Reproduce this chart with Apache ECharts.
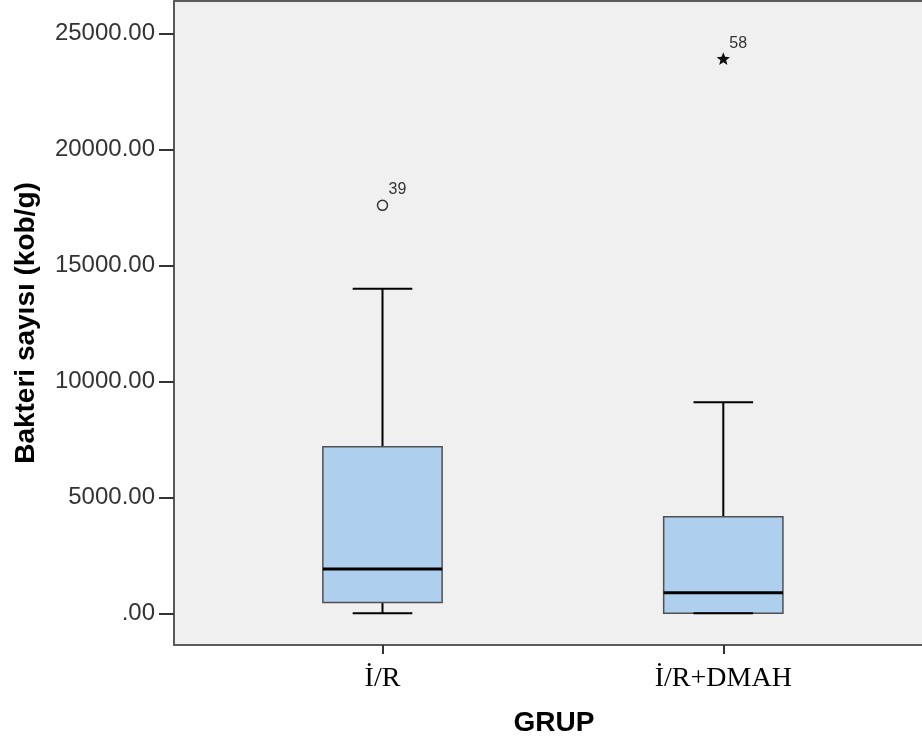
<!DOCTYPE html>
<html><head><meta charset="utf-8">
<script src="https://cdn.jsdelivr.net/npm/echarts@6/dist/echarts.min.js"></script>
<style>html,body{margin:0;padding:0;background:#fff}#c{width:922px;height:742px}</style>
</head><body><div id="c"></div>
<script>
const categories = ['İ/R', 'İ/R+DMAH'];
const whiskerLow = [0, 0];
const q1 = [470, 0];
const median = [1910, 890];
const q3 = [7190, 4170];
const whiskerHigh = [14000, 9100];
const outlierGroup = [0, 1];
const outlierValue = [17600, 23900];
const outlierCase = ['39', '58'];
const outlierKind = ['circle', 'star'];
const yTickValues = [0, 5000, 10000, 15000, 20000, 25000];
const yMin = -1367, yMax = 26415;

const boxData = categories.map((c, i) => [i, whiskerLow[i], q1[i], median[i], q3[i], whiskerHigh[i]]);
const outData = outlierGroup.map((g, i) => [g, outlierValue[i], outlierCase[i], outlierKind[i]]);

function renderBox(params, api) {
  const i = api.value(0);
  const band = api.size([1, 0])[0];
  const bw = band * 0.35;
  const cap = bw / 2;
  const pLow = api.coord([i, api.value(1)]);
  const pQ1 = api.coord([i, api.value(2)]);
  const pMed = api.coord([i, api.value(3)]);
  const pQ3 = api.coord([i, api.value(4)]);
  const pHigh = api.coord([i, api.value(5)]);
  const x = pQ1[0];
  const blk = {stroke: '#000', lineWidth: 2};
  return {type: 'group', children: [
    {type: 'line', shape: {x1: x, y1: pQ3[1], x2: x, y2: pHigh[1]}, style: blk},
    {type: 'line', shape: {x1: x, y1: pQ1[1], x2: x, y2: pLow[1]}, style: blk},
    {type: 'rect', shape: {x: x - bw / 2, y: pQ3[1], width: bw, height: pQ1[1] - pQ3[1]},
      style: {fill: '#aed0ee', stroke: '#505050', lineWidth: 1.5}},
    {type: 'line', shape: {x1: x - cap / 2, y1: pHigh[1], x2: x + cap / 2, y2: pHigh[1]}, style: blk},
    {type: 'line', shape: {x1: x - cap / 2, y1: pLow[1], x2: x + cap / 2, y2: pLow[1]}, style: blk},
    {type: 'line', shape: {x1: x - bw / 2, y1: pMed[1], x2: x + bw / 2, y2: pMed[1]}, style: {stroke: '#000', lineWidth: 3}}
  ]};
}

function starPoints(cx, cy, ro, ri) {
  const pts = [];
  for (let k = 0; k < 10; k++) {
    const r = k % 2 === 0 ? ro : ri;
    const a = -Math.PI / 2 + k * Math.PI / 5;
    pts.push([cx + r * Math.cos(a), cy + r * Math.sin(a)]);
  }
  return pts;
}

function renderOutlier(params, api) {
  const p = api.coord([api.value(0), api.value(1)]);
  const idx = params.dataIndex;
  const kind = outData[idx][3];
  const label = outData[idx][2];
  const marker = kind === 'circle'
    ? {type: 'circle', shape: {cx: p[0], cy: p[1], r: 5}, style: {fill: 'none', stroke: '#333', lineWidth: 1.5}}
    : {type: 'polygon', shape: {points: starPoints(p[0], p[1], 7, 3)}, style: {fill: '#111'}};
  return {type: 'group', children: [
    marker,
    {type: 'text', x: p[0] + 6, y: p[1] - 16, style: {text: label, font: '16px "Liberation Sans"', fill: '#333', align: 'left', verticalAlign: 'middle'}}
  ]};
}

const frameLine = {show: true, onZero: false, lineStyle: {color: '#5a5a5a', width: 2}};

const chart = echarts.init(document.getElementById('c'), null, {renderer: 'canvas'});
chart.setOption({
  animation: false,
  backgroundColor: '#fff',
  grid: [
    {left: 174, right: 0, top: 1, bottom: 97, show: true, backgroundColor: '#f0f0f0', borderWidth: 0},
    {left: 212.1, width: 681.6, top: 1, bottom: 97}
  ],
  xAxis: [
    {gridIndex: 0, type: 'value', min: 0, max: 1, position: 'bottom', axisLine: frameLine, axisTick: {show: false}, axisLabel: {show: false}, splitLine: {show: false},
      name: 'GRUP', nameLocation: 'middle', nameGap: 64,
      nameTextStyle: {fontFamily: 'Liberation Sans', fontWeight: 'bold', fontSize: 28, color: '#000', padding: [0, 0, 0, 12]}},
    {gridIndex: 1, type: 'category', data: categories, position: 'bottom', axisLine: {show: false, onZero: false},
      axisTick: {show: true, alignWithLabel: true, length: 9, lineStyle: {color: '#333', width: 2}},
      axisLabel: {fontFamily: 'Liberation Serif', fontSize: 28, color: '#000', margin: 20}},
    {gridIndex: 0, type: 'value', min: 0, max: 1, position: 'top', axisLine: frameLine, axisTick: {show: false}, axisLabel: {show: false}, splitLine: {show: false}}
  ],
  yAxis: [
    {gridIndex: 0, type: 'value', min: yMin, max: yMax, splitLine: {show: false},
      axisLine: frameLine,
      axisTick: {show: true, length: 15, customValues: yTickValues, lineStyle: {color: '#333', width: 2}},
      axisLabel: {customValues: yTickValues, margin: 19, fontFamily: 'Liberation Sans', fontSize: 24, color: '#333',
        formatter: v => v === 0 ? '.00' : v.toFixed(2)},
      name: 'Bakteri sayısı (kob/g)', nameLocation: 'middle', nameRotate: 90, nameGap: 134,
      nameTextStyle: {fontFamily: 'Liberation Sans', fontWeight: 'bold', fontSize: 28, color: '#000'}},
    {gridIndex: 1, type: 'value', min: yMin, max: yMax, show: false}
  ],
  series: [
    {type: 'custom', xAxisIndex: 1, yAxisIndex: 1, renderItem: renderBox, data: boxData, encode: {x: 0, y: [1, 2, 3, 4, 5]}},
    {type: 'custom', xAxisIndex: 1, yAxisIndex: 1, renderItem: renderOutlier, data: outData, encode: {x: 0, y: 1}}
  ]
});
</script>
</body></html>
